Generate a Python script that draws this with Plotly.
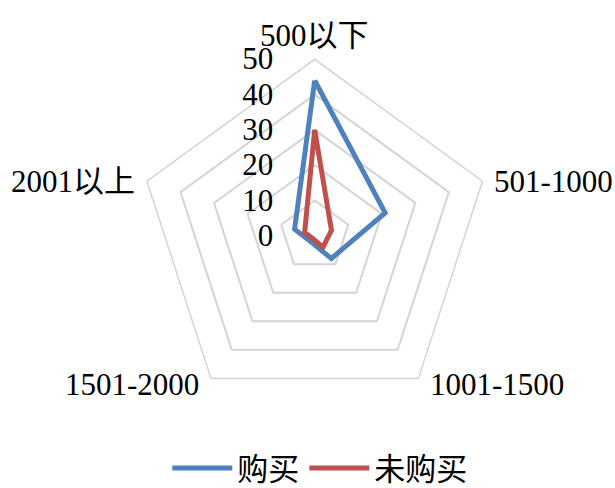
import math
import plotly.graph_objects as go

categories = ["500以下", "501-1000", "1001-1500", "1501-2000", "2001以上"]
bought = [44, 21, 8, 2, 6]
not_bought = [30, 5, 4, 1, 3]
series_names = ["购买", "未购买"]
radial_ticks = [0, 10, 20, 30, 40, 50]

FONT = "Liberation Serif, 'Times New Roman', 'Noto Sans CJK SC', serif"
W, H = 615, 488
CX, CY, R = 314.7, 235.7, 176.4   # polar centre / outer radius in px
GAP = 10                          # distance between outer vertex and label


def closed(vals):
    return list(vals) + [vals[0]]


fig = go.Figure()
fig.add_trace(go.Scatterpolar(
    r=closed(bought), theta=closed(categories), mode="lines",
    name=series_names[0], line=dict(color="#4F81BD", width=5),
))
fig.add_trace(go.Scatterpolar(
    r=closed(not_bought), theta=closed(categories), mode="lines",
    name=series_names[1], line=dict(color="#C0504D", width=5),
))

# category labels placed just outside each outer vertex
n = len(categories)
for i, cat in enumerate(categories):
    ang = math.radians(90 - 360.0 * i / n)
    vx = CX + R * math.cos(ang)
    vy = CY - R * math.sin(ang)
    c, s = math.cos(ang), math.sin(ang)
    if abs(c) < 0.2:
        xa, ya = "center", "bottom"
        px, py = vx, vy - 4
    else:
        xa = "left" if c > 0 else "right"
        ya = "middle"
        px = vx + (GAP if c > 0 else -GAP)
        py = vy + (0 if s > 0 else 6)
    fig.add_annotation(
        text=cat, x=px / W, y=1 - py / H, xref="paper", yref="paper",
        xanchor=xa, yanchor=ya, showarrow=False,
        font=dict(family=FONT, size=31, color="black"),
    )

fig.update_layout(
    width=W, height=H,
    margin=dict(l=0, r=0, t=0, b=0, autoexpand=False),
    paper_bgcolor="white",
    font=dict(family=FONT, size=31, color="black"),
    polar=dict(
        domain=dict(x=[(CX - R) / W, (CX + R) / W],
                    y=[1 - (CY + R) / H, 1 - (CY - R) / H]),
        gridshape="linear",
        bgcolor="white",
        radialaxis=dict(
            range=[0, 50], tickvals=radial_ticks, angle=90, tickangle=90,
            showline=False, gridcolor="#d4d4d4", gridwidth=1.5,
            ticks="outside", ticklen=30, tickcolor="rgba(0,0,0,0)",
            side="counterclockwise",
            tickfont=dict(family=FONT, size=31, color="black"),
        ),
        angularaxis=dict(
            rotation=90, direction="clockwise",
            showgrid=False, showline=True, linecolor="#d4d4d4", linewidth=1.5,
            ticks="", showticklabels=False,
        ),
    ),
    legend=dict(
        orientation="h", x=0.52, xanchor="center", y=-0.015, yanchor="bottom",
        font=dict(family=FONT, size=31, color="black"),
        itemwidth=60,
    ),
)

fig.write_html("out.html")
